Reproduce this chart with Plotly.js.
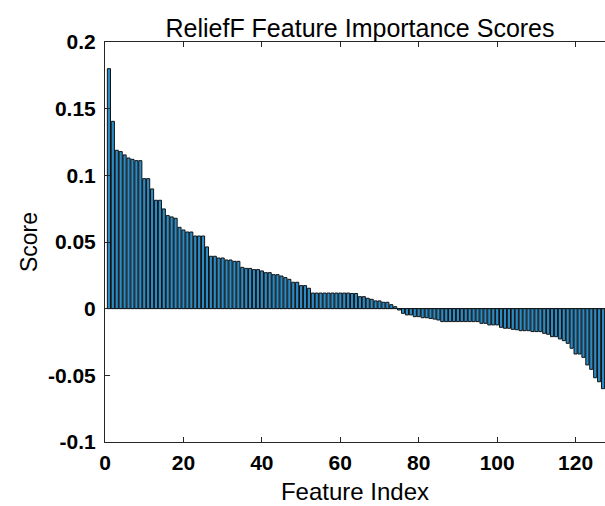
<!DOCTYPE html>
<html>
<head>
<meta charset="utf-8">
<script src="https://cdn.plot.ly/plotly-3.0.1.min.js"></script>
<style>
  html, body { margin: 0; padding: 0; background: #fff; overflow: hidden; }
  #chart { width: 605px; height: 506px; }
</style>
</head>
<body>
<div id="chart"></div>
<script>
// ReliefF importance score per feature, sorted in descending order
const scores = [
  0.180, 0.1405, 0.1188, 0.1178, 0.1153, 0.1130, 0.1120, 0.1110, 0.1110, 0.0975,
  0.0975, 0.0898, 0.0813, 0.0813, 0.0748, 0.0698, 0.0688, 0.0678, 0.0610, 0.0590,
  0.0575, 0.0575, 0.0545, 0.0545, 0.0545, 0.0463, 0.0393, 0.0393, 0.0380, 0.0380,
  0.0365, 0.0365, 0.0355, 0.0355, 0.0310, 0.0302, 0.0302, 0.0293, 0.0293, 0.0283,
  0.0270, 0.0270, 0.0255, 0.0255, 0.0245, 0.0233, 0.0220, 0.0198, 0.0198, 0.0173,
  0.0173, 0.0153, 0.0117, 0.0117, 0.0117, 0.0117, 0.0117, 0.0117, 0.0117, 0.0117,
  0.0117, 0.0117, 0.0114, 0.0114, 0.0090, 0.0090, 0.0078, 0.0070, 0.0058, 0.0058,
  0.0048, 0.0048, 0.0030, 0.0015, -0.0010, -0.0035, -0.0047, -0.0047, -0.0060, -0.0060,
  -0.0068, -0.0068, -0.0073, -0.0078, -0.0085, -0.0097, -0.0097, -0.0097, -0.0097, -0.0097,
  -0.0097, -0.0097, -0.0097, -0.0097, -0.0097, -0.0110, -0.0110, -0.0122, -0.0122, -0.0122,
  -0.0140, -0.0147, -0.0147, -0.0155, -0.0158, -0.0165, -0.0165, -0.0165, -0.0172, -0.0172,
  -0.0172, -0.0185, -0.0192, -0.0210, -0.0210, -0.0227, -0.0240, -0.0260, -0.0297, -0.0340,
  -0.0340, -0.0365, -0.0422, -0.0455, -0.0518, -0.0548, -0.0600
];
const featureIndex = scores.map((_, i) => i + 1);

const xTickVals = [0, 20, 40, 60, 80, 100, 120];
const xTickText = ['0', '20', '40', '60', '80', '100', '120'];
const yTickVals = [-0.1, -0.05, 0, 0.05, 0.1, 0.15, 0.2];
const yTickText = ['-0.1', '-0.05', '0', '0.05', '0.1', '0.15', '0.2'];

const FONT = 'Liberation Sans, Arial, Helvetica, sans-serif';
const AXIS_COLOR = '#262626';

const trace = {
  type: 'bar',
  x: featureIndex,
  y: scores,
  width: 0.8,
  marker: { color: '#2a8cc6', line: { color: '#111111', width: 1 } },
  hoverinfo: 'x+y'
};

const axisCommon = {
  showgrid: false,
  showline: true,
  linecolor: AXIS_COLOR,
  linewidth: 1,
  ticks: 'inside',
  ticklen: 5,
  tickwidth: 1,
  tickcolor: AXIS_COLOR,
  tickmode: 'array',
  tickfont: { family: FONT, size: 21, color: '#000', weight: 'bold' }
};

const layout = {
  width: 605,
  height: 506,
  margin: { l: 105, r: 0, t: 42, b: 64 },
  paper_bgcolor: '#fff',
  plot_bgcolor: '#fff',
  showlegend: false,
  bargap: 0,
  title: {
    text: 'ReliefF Feature Importance Scores',
    font: { family: FONT, size: 25, color: '#000' },
    x: 0.51, xref: 'paper', xanchor: 'center',
    y: 1 - 28 / 506, yref: 'container', yanchor: 'middle'
  },
  xaxis: Object.assign({}, axisCommon, {
    range: [0, 127.5],
    mirror: 'ticks',
    tickvals: xTickVals,
    ticktext: xTickText,
    zeroline: false,
    ticklabelstandoff: 2,
    title: { text: 'Feature Index', font: { family: FONT, size: 24, color: '#000' }, standoff: 9 }
  }),
  yaxis: Object.assign({}, axisCommon, {
    range: [-0.1, 0.2],
    mirror: false,
    tickvals: yTickVals,
    ticktext: yTickText,
    zeroline: true,
    zerolinecolor: AXIS_COLOR,
    zerolinewidth: 1,
    ticklabelstandoff: 4,
    title: { text: 'Score', font: { family: FONT, size: 23, color: '#000' }, standoff: 3 }
  })
};

Plotly.newPlot('chart', [trace], layout, { displayModeBar: false, staticPlot: true });
</script>
</body>
</html>
